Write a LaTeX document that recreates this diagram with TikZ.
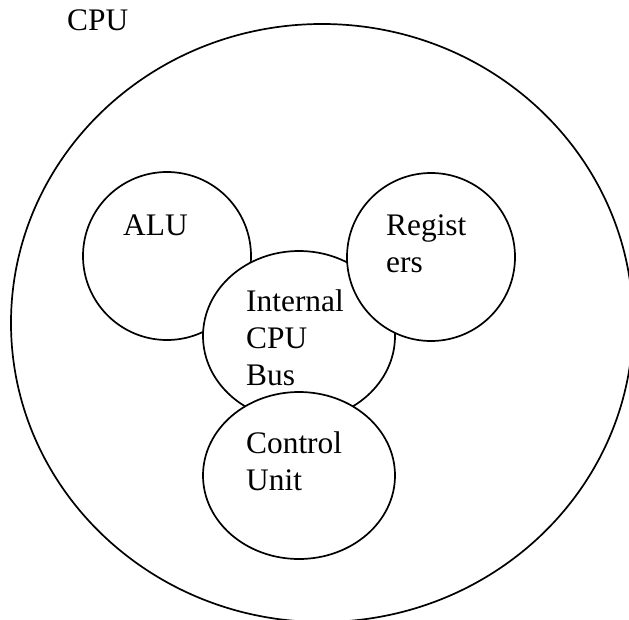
\documentclass[tikz,border=0pt]{standalone}
\usepackage{fontspec}
\setmainfont{Liberation Serif}
\usetikzlibrary{shapes.geometric}
\begin{document}
\begin{tikzpicture}[x=1bp,y=-1bp,
  blob/.style={ellipse, draw=black, fill=white, line width=1.7bp, inner sep=0pt, outer sep=0pt},
  lbl/.style={anchor=base west, inner sep=0pt, align=left, font=\fontsize{31.5}{37}\selectfont}]
\useasboundingbox (0,0) rectangle (629,620);
\clip (0,0) rectangle (629,620);
\node[blob, minimum width=622bp, minimum height=598bp] (cpu) at (322,323) {};
\node[blob, minimum width=168bp, minimum height=168bp] (alu) at (167,256) {};
\node[blob, minimum width=192bp, minimum height=170bp] (bus) at (299,336) {};
\node[blob, minimum width=168bp, minimum height=168bp] (reg) at (431,257) {};
\node[blob, minimum width=192bp, minimum height=167bp] (cu) at (299,475.5) {};
\node[lbl] (cputext) at (67,31) {CPU};
\node[lbl] (alutext) at (123,235) {ALU};
\node[lbl] (regtext) at (386,272) {Regist\\ers};
\node[lbl] (bustext) at (246,385) {Internal\\CPU\\Bus};
\node[lbl] (cutext) at (246,490) {Control\\Unit};
\end{tikzpicture}
\end{document}
